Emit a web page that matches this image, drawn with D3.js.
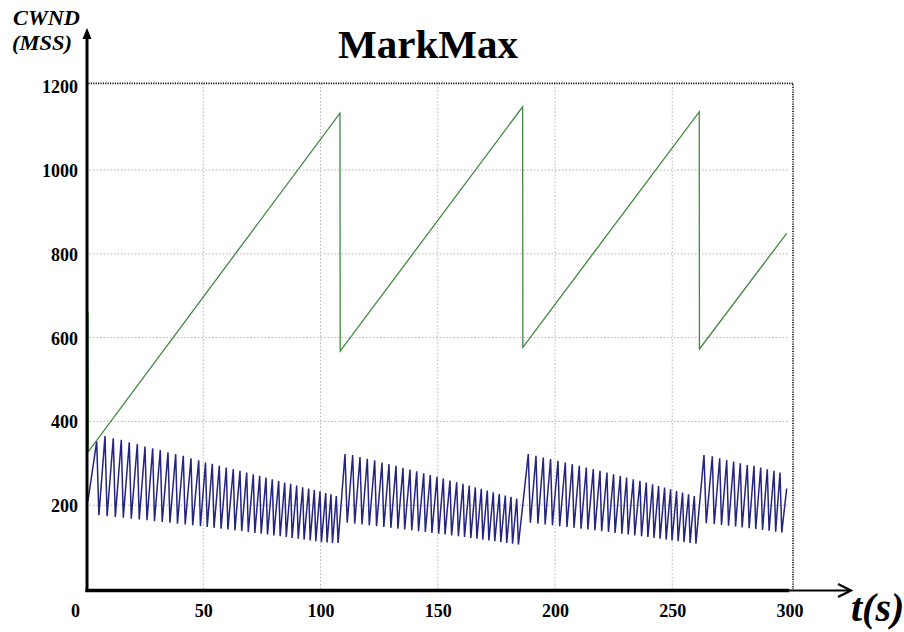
<!DOCTYPE html>
<html>
<head>
<meta charset="utf-8">
<script src="https://cdn.jsdelivr.net/npm/d3@7"></script>
<style>
    body { margin: 0; background: #fff; }
    svg text { font-family: "Liberation Serif", "DejaVu Serif", serif; fill: #000; }
</style>
</head>
<body>
<svg id="chart" width="904" height="632"></svg>
<script>
var serif = '"Liberation Serif", "DejaVu Serif", serif';

// tick labels
var xTicks = [0, 50, 100, 150, 200, 250, 300];
var yTicks = [200, 400, 600, 800, 1000, 1200];

// green flow: corner points [t, cwnd]
var greenT = [0.3, 0.9, 1.0, 108.3, 108.4, 186.2, 186.3, 261.5, 261.6, 298.8];
var greenV = [0, 660, 328, 1136, 568, 1151, 577, 1139, 573, 849];

// blue flow: peaks and troughs, one list per cycle [t, cwnd]
var blueStart = [[0.8, 210]];
var blueCycle1 = [
    [4.56, 352], [5.5, 176], [8.10, 365], [9.0, 174], [11.64, 360], [12.5, 172],
    [15.05, 356], [15.9, 170], [18.46, 350], [19.3, 168], [21.88, 346], [22.7, 166],
    [25.16, 340], [26.0, 164], [28.44, 336], [29.2, 162], [31.68, 332], [32.5, 160],
    [34.97, 326], [35.8, 158], [38.25, 322], [39.0, 156], [41.49, 318], [42.3, 154],
    [44.78, 312], [45.5, 152], [48.06, 307], [48.8, 150], [50.96, 302], [51.7, 148],
    [53.86, 299], [54.6, 146], [56.84, 294], [57.6, 144], [59.83, 290], [60.5, 142],
    [62.81, 286], [63.5, 140], [65.67, 282], [66.4, 138], [68.53, 278], [69.2, 136],
    [71.34, 274], [72.0, 134], [74.07, 270], [74.7, 132], [76.76, 266], [77.4, 130],
    [79.45, 262], [80.1, 128], [82.17, 258], [82.8, 126], [84.73, 254], [85.4, 124],
    [87.29, 251], [87.9, 122], [89.85, 247], [90.5, 120], [92.41, 243], [93.0, 118],
    [94.97, 240], [95.6, 116], [97.36, 236], [98.0, 114], [99.79, 233], [100.4, 112],
    [102.22, 229], [102.8, 111], [104.48, 226], [105.1, 110], [106.74, 222], [107.5, 110]
];
var blueCycle2 = [
    [110.45, 322], [111.4, 158], [113.73, 320], [114.6, 156], [116.84, 315], [117.7, 154],
    [119.96, 311], [120.8, 152], [123.11, 307], [123.9, 150], [126.23, 302], [127.0, 148],
    [129.21, 298], [130.0, 146], [132.20, 294], [133.0, 144], [135.18, 289], [135.9, 142],
    [138.17, 285], [138.9, 140], [141.02, 281], [141.8, 138], [144.01, 276], [144.7, 136],
    [146.82, 272], [147.5, 134], [149.68, 268], [150.4, 132], [152.37, 264], [153.1, 130],
    [155.22, 259], [155.9, 128], [158.08, 255], [158.8, 126], [160.77, 251], [161.4, 124],
    [163.45, 247], [164.1, 122], [166.01, 243], [166.7, 120], [168.57, 239], [169.2, 118],
    [171.13, 235], [171.8, 116], [173.69, 231], [174.3, 114], [176.25, 227], [176.9, 112],
    [178.81, 223], [179.4, 110], [181.24, 220], [181.9, 108], [183.67, 216], [184.4, 106]
];
var blueCycle3 = [
    [188.61, 322], [189.5, 158], [191.90, 318], [192.7, 156], [195.01, 314], [195.8, 154],
    [198.12, 310], [198.9, 152], [201.28, 306], [202.0, 150], [204.39, 302], [205.1, 148],
    [207.38, 298], [208.1, 146], [210.36, 294], [211.1, 144], [213.35, 290], [214.0, 142],
    [216.33, 286], [217.0, 140], [219.19, 282], [219.9, 138], [222.17, 278], [222.8, 136],
    [224.99, 274], [225.6, 134], [227.85, 270], [228.5, 132], [230.53, 266], [231.2, 130],
    [233.39, 262], [234.0, 128], [236.25, 258], [236.9, 126], [238.93, 254], [239.6, 124],
    [241.62, 250], [242.2, 122], [244.18, 246], [244.8, 120], [246.74, 242], [247.4, 118],
    [249.30, 238], [249.9, 116], [251.86, 234], [252.5, 114], [254.41, 230], [255.0, 112],
    [256.97, 226], [257.6, 110], [259.40, 222], [260.1, 108]
];
var blueCycle4 = [
    [263.54, 320], [264.5, 157], [267.08, 317], [267.9, 155], [270.23, 312], [271.0, 153],
    [273.22, 308], [274.0, 151], [276.20, 304], [277.0, 149], [279.02, 300], [279.8, 147],
    [282.00, 296], [282.8, 145], [284.86, 294], [285.6, 143], [287.72, 290], [288.5, 141],
    [290.53, 286], [291.3, 139], [293.39, 282], [294.1, 137], [295.95, 278], [296.7, 135],
    [298.8, 240]
];

var svg = d3.select('#chart');

var x = d3.scaleLinear().domain([0, 300]).range([86, 789.5]);
var y = d3.scaleLinear().domain([0, 1200]).range([589, 86.3]);

// dotted grid
var grid = svg.append('g');
grid.selectAll('line.h')
    .data(yTicks.filter(function(d) { return d < 1200; }))
    .enter().append('line')
    .attr('x1', x(0)).attr('x2', x(300))
    .attr('y1', function(d) { return y(d); })
    .attr('y2', function(d) { return y(d); })
    .attr('stroke', '#b4b4b4').attr('stroke-width', 1)
    .attr('stroke-dasharray', '1.5,2');
grid.selectAll('line.v')
    .data(xTicks.filter(function(d) { return d > 0 && d < 300; }))
    .enter().append('line')
    .attr('x1', function(d) { return x(d); })
    .attr('x2', function(d) { return x(d); })
    .attr('y1', y(1207)).attr('y2', y(0))
    .attr('stroke', '#b4b4b4').attr('stroke-width', 1)
    .attr('stroke-dasharray', '1.5,2');

// black dotted frame at top and right
svg.append('path')
    .attr('d', 'M' + x(0) + ',' + y(1207) + 'H' + x(301.5) + 'V' + y(0))
    .attr('fill', 'none').attr('stroke', '#111').attr('stroke-width', 1.6)
    .attr('stroke-dasharray', '1.2,1.2');

var line = d3.line()
    .x(function(d) { return x(d[0]); })
    .y(function(d) { return y(d[1]); });

var blueData = blueStart.concat(blueCycle1, blueCycle2, blueCycle3, blueCycle4);
svg.append('path')
    .datum(blueData)
    .attr('d', line)
    .attr('fill', 'none').attr('stroke', '#25257f').attr('stroke-width', 1.5);

var greenData = greenT.map(function(t, i) { return [t, greenV[i]]; });
svg.append('path')
    .datum(greenData)
    .attr('d', line)
    .attr('fill', 'none').attr('stroke', '#448644').attr('stroke-width', 1.3);

// axes lines with arrows
svg.append('line')
    .attr('x1', 87).attr('x2', 87).attr('y1', y(0) + 3).attr('y2', 36)
    .attr('stroke', '#000').attr('stroke-width', 3);
svg.append('path')
    .attr('d', 'M87,28L82.5,39L91.5,39Z').attr('fill', '#000');
svg.append('line')
    .attr('x1', 85.5).attr('x2', x(300)).attr('y1', y(0) + 1.5).attr('y2', y(0) + 1.5)
    .attr('stroke', '#000').attr('stroke-width', 3.4);
svg.append('line')
    .attr('x1', x(300)).attr('x2', 850).attr('y1', y(0) + 1.5).attr('y2', y(0) + 1.5)
    .attr('stroke', '#000').attr('stroke-width', 2);
svg.append('path')
    .attr('d', 'M838,584L851,' + (y(0) + 1.5) + 'L838,597')
    .attr('fill', 'none').attr('stroke', '#000').attr('stroke-width', 2.2);

// tick labels
var yAxis = svg.append('g')
    .attr('transform', 'translate(86,0)')
    .call(d3.axisLeft(y).tickValues(yTicks).tickFormat(d3.format('d')).tickSize(0).tickPadding(8));
yAxis.attr('font-family', null);
yAxis.select('.domain').remove();
yAxis.selectAll('text')
    .attr('dy', '0.36em')
    .style('font-family', serif)
    .style('font-size', '18px').style('font-weight', 'bold');

var xAxis = svg.append('g')
    .attr('transform', 'translate(0,' + y(0) + ')')
    .call(d3.axisBottom(x).tickValues(xTicks).tickFormat(d3.format('d')).tickSize(0).tickPadding(15));
xAxis.attr('font-family', null);
xAxis.select('.domain').remove();
xAxis.selectAll('text')
    .attr('dx', function(d) { return d === 0 ? -11 : 0; })
    .style('font-family', serif)
    .style('font-size', '18px').style('font-weight', 'bold');

// title and axis names
svg.append('text')
    .attr('x', 428).attr('y', 58)
    .attr('text-anchor', 'middle')
    .style('font-family', serif)
    .style('font-size', '41px').style('font-weight', 'bold')
    .text('MarkMax');

svg.append('text')
    .attr('x', 13).attr('y', 25)
    .attr('textLength', 67).attr('lengthAdjust', 'spacingAndGlyphs')
    .style('font-family', serif)
    .style('font-size', '20px').style('font-weight', 'bold').style('font-style', 'italic')
    .text('CWND');
svg.append('text')
    .attr('x', 12).attr('y', 50)
    .attr('textLength', 60).attr('lengthAdjust', 'spacingAndGlyphs')
    .style('font-family', serif)
    .style('font-size', '20px').style('font-weight', 'bold').style('font-style', 'italic')
    .text('(MSS)');

svg.append('text')
    .attr('x', 851).attr('y', 621)
    .style('font-family', serif)
    .style('font-size', '40px').style('font-weight', 'bold').style('font-style', 'italic')
    .text('t(s)');
</script>
</body>
</html>
